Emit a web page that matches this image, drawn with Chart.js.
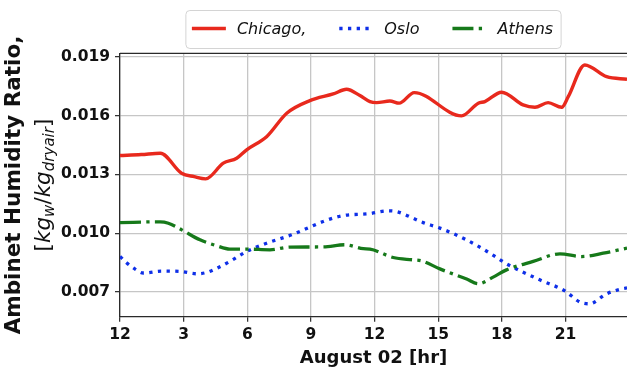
<!DOCTYPE html>
<html>
<head>
<meta charset="utf-8">
<script src="https://cdn.jsdelivr.net/npm/chart.js@4/dist/chart.umd.min.js"></script>
<style>
  html, body { margin: 0; padding: 0; background: #ffffff; }
  canvas { display: block; }
</style>
</head>
<body>
<canvas id="humidity" width="627" height="370"></canvas>
<script>
// Hourly ambient humidity ratio, kg water per kg dry air, on August 02
const chicagoHours = [0, 1, 1.9, 2.9, 3.5, 4.04, 4.87, 5.5, 5.97, 6.91, 7.86, 8.95, 10.05, 10.68, 11.31, 11.78, 12.1, 12.72, 13.16, 13.87, 16.1, 16.89, 17.2, 17.99, 19.0, 19.56, 20.18, 20.82, 21.13, 21.91, 22.94, 23.9];
const chicagoRatio = [0.01396, 0.01401, 0.01408, 0.01306, 0.01288, 0.01277, 0.01357, 0.01382, 0.01425, 0.01492, 0.01612, 0.01676, 0.01710, 0.01734, 0.01702, 0.01671, 0.01666, 0.01674, 0.01663, 0.01717, 0.01598, 0.01663, 0.01671, 0.01719, 0.01654, 0.01642, 0.01666, 0.01642, 0.01696, 0.01858, 0.01798, 0.01785];

const osloHours = [0, 0.32, 0.71, 1.1, 1.97, 2.83, 3.64, 4.09, 4.48, 5.26, 5.97, 6.91, 8.09, 8.95, 9.66, 10.52, 11.7, 12.64, 13.04, 14.29, 15.08, 16.34, 17.44, 18.22, 19.79, 20.97, 21.68, 22.12, 22.94, 23.72, 23.9];
const osloRatio = [0.00881, 0.00848, 0.00817, 0.00797, 0.00807, 0.00805, 0.00793, 0.00800, 0.00817, 0.00861, 0.00907, 0.00949, 0.00992, 0.01031, 0.01063, 0.01090, 0.01099, 0.01114, 0.01110, 0.01054, 0.01026, 0.00966, 0.00898, 0.00844, 0.00762, 0.00706, 0.00649, 0.00640, 0.00691, 0.00718, 0.00721];

const athensHours = [0, 1.89, 2.28, 2.91, 3.77, 4.56, 5.18, 5.97, 7.07, 8.01, 9.58, 10.6, 11.47, 11.78, 12.88, 13.82, 14.22, 15.08, 16.34, 16.89, 17.59, 18.22, 19.48, 20.74, 21.76, 22.78, 23.9];
const athensRatio = [0.01054, 0.01058, 0.01051, 0.01017, 0.00966, 0.00936, 0.00919, 0.00919, 0.00915, 0.00929, 0.00930, 0.00941, 0.00921, 0.00919, 0.00876, 0.00864, 0.00859, 0.00818, 0.00766, 0.00742, 0.00776, 0.00813, 0.00856, 0.00895, 0.00881, 0.00898, 0.00924];

const seriesNames = ['Chicago,', 'Oslo', 'Athens'];

// Axis ticks: hours of the day and humidity ratio levels
const hourTicks = [0, 3, 6, 9, 12, 15, 18, 21];
const hourTickLabels = ['12', '3', '6', '9', '12', '15', '18', '21'];
const ratioTicks = [0.007, 0.010, 0.013, 0.016, 0.019];

const FAMILY = "'DejaVu Sans', sans-serif";
const INK = '#111111';
const GRID = '#c6c6c6';
const SPINE = '#2a2a2a';

function toPoints(xs, ys) {
  return xs.map((x, i) => ({ x: x, y: ys[i] }));
}

// Framed legend above the plot, centred on the plotting area
const framedLegend = {
  id: 'framedLegend',
  afterDraw(chart) {
    const ctx = chart.ctx;
    const area = chart.chartArea;
    const sample = 34, gap = 11, between = 33, padL = 6, padR = 8;
    ctx.save();
    ctx.font = 'italic 16px ' + FAMILY;
    const items = chart.data.datasets.map(ds => ({ ds: ds, w: ctx.measureText(ds.label).width }));
    let total = padL + padR + between * (items.length - 1);
    items.forEach(it => { total += sample + gap + it.w; });
    const left = (area.left + area.right) / 2 - total / 2;
    const top = 10.5, h = 38, r = 4;

    ctx.beginPath();
    ctx.moveTo(left + r, top);
    ctx.lineTo(left + total - r, top);
    ctx.quadraticCurveTo(left + total, top, left + total, top + r);
    ctx.lineTo(left + total, top + h - r);
    ctx.quadraticCurveTo(left + total, top + h, left + total - r, top + h);
    ctx.lineTo(left + r, top + h);
    ctx.quadraticCurveTo(left, top + h, left, top + h - r);
    ctx.lineTo(left, top + r);
    ctx.quadraticCurveTo(left, top, left + r, top);
    ctx.closePath();
    ctx.fillStyle = 'rgba(255,255,255,0.85)';
    ctx.fill();
    ctx.lineWidth = 1;
    ctx.strokeStyle = '#d4d4d4';
    ctx.stroke();

    let x = left + padL;
    const y = top + h / 2;
    items.forEach(it => {
      const ds = it.ds;
      ctx.beginPath();
      ctx.setLineDash(ds.borderDash || []);
      ctx.lineCap = 'butt';
      ctx.lineWidth = ds.borderWidth;
      ctx.strokeStyle = ds.borderColor;
      ctx.moveTo(x, y - 1);
      ctx.lineTo(x + sample, y - 1);
      ctx.stroke();
      ctx.setLineDash([]);
      ctx.fillStyle = INK;
      ctx.textAlign = 'left';
      ctx.textBaseline = 'middle';
      ctx.fillText(ds.label, x + sample + gap, y + 0.5);
      x += sample + gap + it.w + between;
    });
    ctx.restore();
  }
};

// Two-line vertical axis title, second line with subscripted units
const ratioTitle = {
  id: 'ratioTitle',
  afterDraw(chart) {
    const ctx = chart.ctx;
    const area = chart.chartArea;
    const cy = (area.top + area.bottom) / 2;
    const size = 21.5;
    ctx.save();
    ctx.fillStyle = INK;
    ctx.textBaseline = 'alphabetic';

    ctx.save();
    ctx.translate(20, cy);
    ctx.rotate(-Math.PI / 2);
    ctx.textAlign = 'center';
    ctx.font = 'bold ' + size + 'px ' + FAMILY;
    ctx.fillText('Ambinet Humidity Ratio,', 0, 0);
    ctx.restore();

    const parts = [
      { t: '[', italic: false, scale: 1, drop: 0 },
      { t: 'kg', italic: true, scale: 1, drop: 0 },
      { t: 'w', italic: true, scale: 0.7, drop: 0.22 },
      { t: '/', italic: false, scale: 1, drop: 0 },
      { t: 'kg', italic: true, scale: 1, drop: 0 },
      { t: 'dryair', italic: true, scale: 0.7, drop: 0.22 },
      { t: ']', italic: false, scale: 1, drop: 0 }
    ];
    const fontOf = p => (p.italic ? 'italic ' : '') + (size * p.scale) + 'px ' + FAMILY;
    let width = 0;
    parts.forEach(p => { ctx.font = fontOf(p); p.w = ctx.measureText(p.t).width; width += p.w; });

    ctx.save();
    ctx.translate(49.5, cy);
    ctx.rotate(-Math.PI / 2);
    ctx.textAlign = 'left';
    let x = -width / 2;
    parts.forEach(p => {
      ctx.font = fontOf(p);
      ctx.fillText(p.t, x, p.drop * size);
      x += p.w;
    });
    ctx.restore();
    ctx.restore();
  }
};

// Top frame line of the plotting area
const topFrame = {
  id: 'topFrame',
  afterDatasetsDraw(chart) {
    const ctx = chart.ctx;
    const a = chart.chartArea;
    ctx.save();
    ctx.beginPath();
    ctx.lineWidth = 1.3;
    ctx.strokeStyle = SPINE;
    ctx.moveTo(a.left, a.top);
    ctx.lineTo(a.right, a.top);
    ctx.stroke();
    ctx.restore();
  }
};

const tickFont = { family: FAMILY, size: 15.5, weight: 'bold' };

new Chart(document.getElementById('humidity'), {
  type: 'line',
  data: {
    datasets: [
      {
        label: seriesNames[0],
        data: toPoints(chicagoHours, chicagoRatio),
        borderColor: '#e8291d',
        borderWidth: 3.4,
        borderDash: [],
        order: 3
      },
      {
        label: seriesNames[1],
        data: toPoints(osloHours, osloRatio),
        borderColor: '#0e2fe8',
        borderWidth: 3.3,
        borderDash: [3.3, 5.4],
        order: 2
      },
      {
        label: seriesNames[2],
        data: toPoints(athensHours, athensRatio),
        borderColor: '#16791a',
        borderWidth: 3.3,
        borderDash: [21, 5.3, 3.3, 5.3],
        order: 1
      }
    ]
  },
  options: {
    responsive: false,
    animation: false,
    devicePixelRatio: 1,
    layout: { padding: { top: 53.3, left: 0, right: 0, bottom: 0 } },
    plugins: {
      legend: { display: false },
      tooltip: { enabled: false }
    },
    elements: {
      point: { radius: 0 },
      line: { cubicInterpolationMode: 'monotone', fill: false, borderCapStyle: 'butt', borderJoinStyle: 'round' }
    },
    scales: {
      x: {
        type: 'linear',
        min: 0,
        max: 23.9,
        afterBuildTicks: s => { s.ticks = hourTicks.map(v => ({ value: v })); },
        afterFit: s => { s.height = 53.3; },
        ticks: {
          callback: (v, i) => hourTickLabels[i],
          font: tickFont,
          color: INK,
          padding: 4,
          maxRotation: 0,
          autoSkip: false
        },
        grid: { color: GRID, lineWidth: 1.3, tickLength: 5, tickColor: SPINE, tickWidth: 1.2 },
        border: { color: SPINE, width: 1.3 },
        title: {
          display: true,
          text: 'August 02 [hr]',
          color: INK,
          font: { family: FAMILY, size: 18, weight: 'bold', lineHeight: 1.2 },
          padding: { top: 0, bottom: 1 }
        }
      },
      y: {
        type: 'linear',
        min: 0.005742,
        max: 0.019173,
        afterBuildTicks: s => { s.ticks = ratioTicks.map(v => ({ value: v })); },
        afterFit: s => { s.width = 120; },
        ticks: {
          callback: v => Number(v).toFixed(3),
          font: tickFont,
          color: INK,
          padding: 5,
          autoSkip: false
        },
        grid: { color: GRID, lineWidth: 1.3, tickLength: 5, tickColor: SPINE, tickWidth: 1.2 },
        border: { color: SPINE, width: 1.3 }
      }
    }
  },
  plugins: [framedLegend, ratioTitle, topFrame]
});
</script>
</body>
</html>
